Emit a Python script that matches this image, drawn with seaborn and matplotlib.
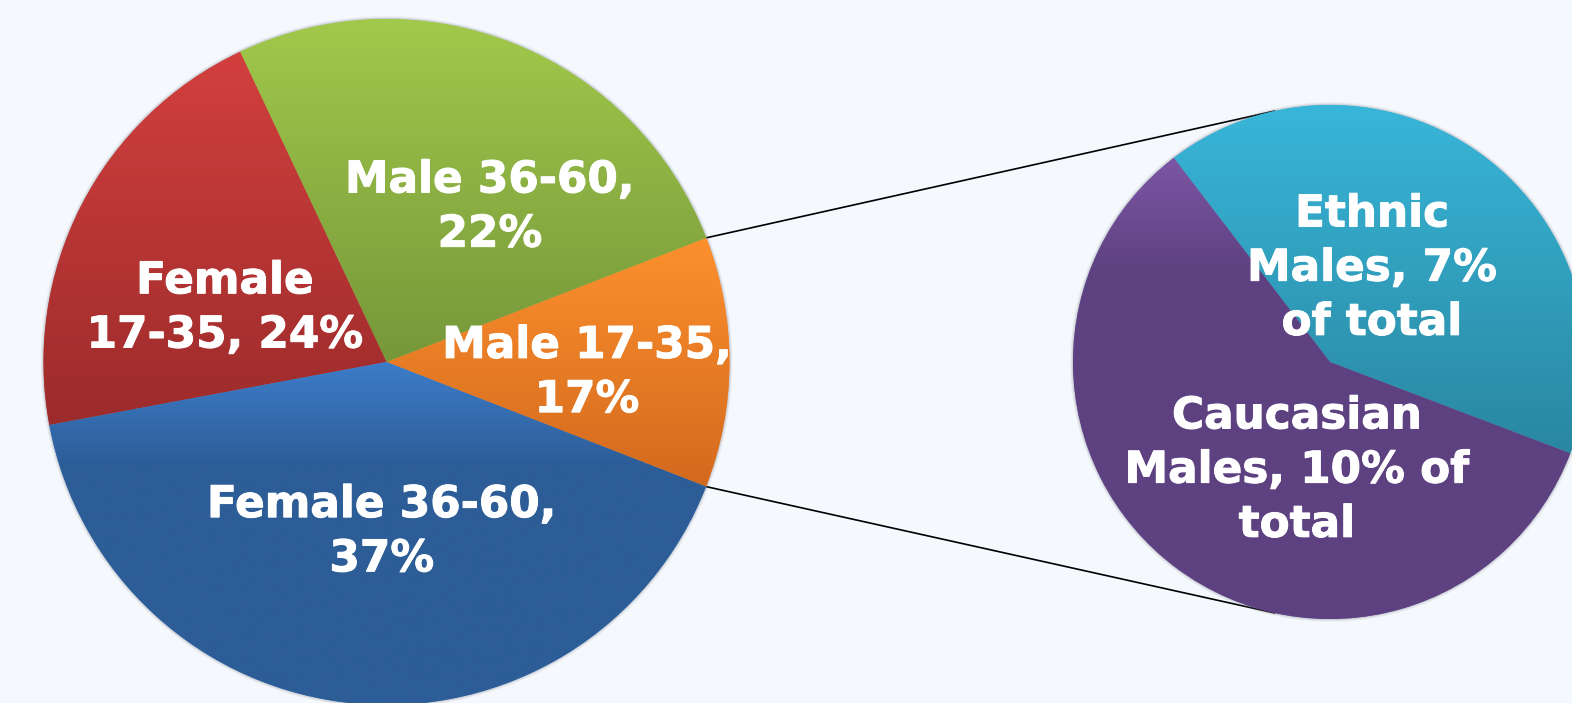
import numpy as np
import matplotlib
matplotlib.use("Agg")
import matplotlib.pyplot as plt
import matplotlib.patheffects as pe
import seaborn as sns

sns.set_theme(style="white")
plt.rcParams["font.family"] = ["DejaVu Sans"]

# main pie, counter-clockwise from the lower edge of the orange slice
# (shares, labels as printed on the chart)
main_labels = ["Male 17-35,\n17%", "Male 36-60,\n22%", "Female\n17-35, 24%", "Female 36-60,\n37%"]
main_share = [11.8, 26.1, 20.9, 41.1]

# breakout pie of the "Male 17-35" slice
sub_labels = ["Ethnic\nMales, 7%\nof total", "Caucasian\nMales, 10% of\ntotal"]
sub_share = [7, 10]

# colours (top, bottom) of the gradient fill and how far down the ramp runs
main_colors = [("#fd902d", "#d3691e", 1.0), ("#a2c94b", "#76973a", 1.0),
               ("#d2403e", "#9c2b2b", 1.0), ("#3d7cc9", "#2d5d97", 0.3)]
sub_colors = [("#38b6d9", "#2a87a1", 1.0), ("#7c56a4", "#5d4180", 0.25)]

W, H = 1572, 703
BG = "#f5f8fc"


def grad_fill(ax, wedge, top, bottom, ramp):
    verts = wedge.get_path().vertices
    x0, x1 = verts[:, 0].min(), verts[:, 0].max()
    y0, y1 = verts[:, 1].min(), verts[:, 1].max()
    t = np.clip(np.linspace(0, 1, 256) / ramp, 0, 1)[:, None]
    cmap = sns.blend_palette([top, bottom], as_cmap=True)
    im = ax.imshow(t, cmap=cmap, vmin=0, vmax=1, extent=(x0, x1, y0, y1),
                   origin="upper", aspect="auto", zorder=2, interpolation="bilinear")
    im.set_clip_path(wedge)


def put_label(ax, center, radius, r_frac, ang, txt):
    a = np.deg2rad(ang)
    ax.text(center[0] + r_frac * radius * np.cos(a), center[1] + r_frac * radius * np.sin(a),
            txt, ha="center", va="center", multialignment="center", color="white",
            fontsize=31.5, fontweight="bold", linespacing=1.33, zorder=5,
            path_effects=[pe.withStroke(linewidth=0.7, foreground="white")])


def soft_shadow(ax, center, radius):
    for k, a in [(3.0, 0.06), (2.0, 0.10), (1.0, 0.18)]:
        ax.add_patch(plt.Circle(center, radius + k, color="#6a7080", alpha=a, lw=0, zorder=0.8))


fig = plt.figure(figsize=(W / 100, H / 100), dpi=100, facecolor=BG)
ax = fig.add_axes([0, 0, 1, 1])
ax.set_facecolor(BG)

main_c, main_r = (386.5, H - 362), 343
sub_c, sub_r = (1330, H - 362), 257

soft_shadow(ax, main_c, main_r)
soft_shadow(ax, sub_c, sub_r)

m_wedges, _ = ax.pie(main_share, center=main_c, radius=main_r, startangle=-21.3,
                     counterclock=True, colors=[c[0] for c in main_colors],
                     wedgeprops=dict(linewidth=0, zorder=1))
s_wedges, _ = ax.pie(sub_share, center=sub_c, radius=sub_r, startangle=-20.8,
                     counterclock=True, colors=[c[0] for c in sub_colors],
                     wedgeprops=dict(linewidth=0, zorder=1))

for w, (top, bot, ramp) in zip(m_wedges, main_colors):
    grad_fill(ax, w, top, bot, ramp)
for w, (top, bot, ramp) in zip(s_wedges, sub_colors):
    grad_fill(ax, w, top, bot, ramp)

# label spots as (fraction of radius, angle) from each pie centre
main_label_pos = [(0.585, -3.0), (0.543, 56.3), (0.497, 161.5), (0.495, -91.6)]
sub_label_pos = [(0.40, 65.9), (0.44, -107.0)]
for txt, (rf, ang) in zip(main_labels, main_label_pos):
    put_label(ax, main_c, main_r, rf, ang, txt)
for txt, (rf, ang) in zip(sub_labels, sub_label_pos):
    put_label(ax, sub_c, sub_r, rf, ang, txt)

# connector lines from the edges of the broken-out slice to the small pie
other = m_wedges[0]
for a_main, a_sub in [(other.theta2, 102.3), (other.theta1, -102.3)]:
    p = np.deg2rad(a_main)
    q = np.deg2rad(a_sub)
    ax.plot([main_c[0] + main_r * np.cos(p), sub_c[0] + sub_r * np.cos(q)],
            [main_c[1] + main_r * np.sin(p), sub_c[1] + sub_r * np.sin(q)],
            color="black", lw=1.2, zorder=0.5, solid_capstyle="butt")

ax.set_xlim(0, W)
ax.set_ylim(0, H)
ax.set_aspect("equal", adjustable="box")
ax.axis("off")

fig.savefig("out.png", dpi=100, facecolor=BG)
